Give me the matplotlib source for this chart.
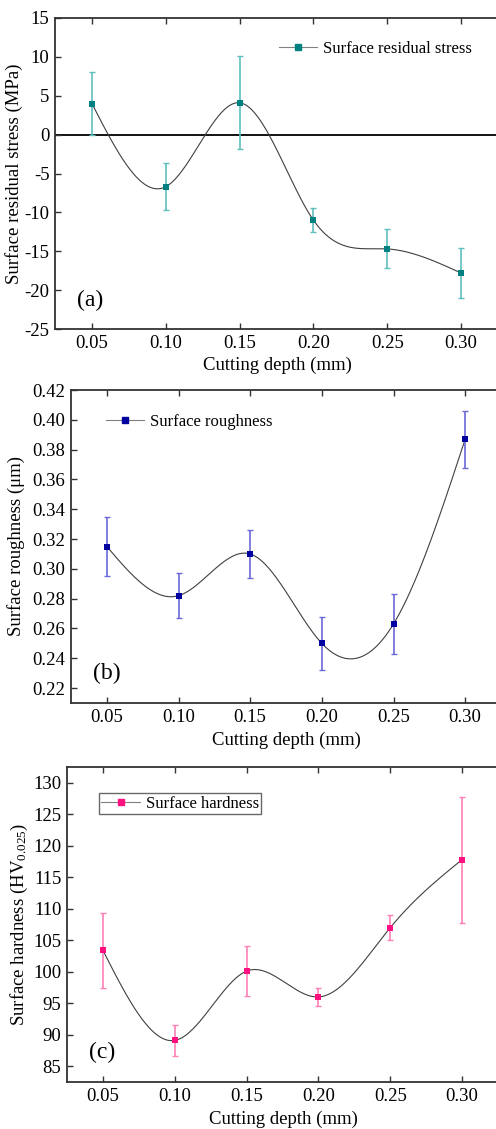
import numpy as np
import matplotlib
matplotlib.use("Agg")
import matplotlib.pyplot as plt
from matplotlib.lines import Line2D

plt.rcParams['font.family'] = ['Liberation Serif', 'DejaVu Serif']
plt.rcParams['mathtext.fontset'] = 'custom'
plt.rcParams['mathtext.rm'] = 'Liberation Serif'
plt.rcParams['mathtext.it'] = 'Liberation Serif:italic'

depth = [0.05, 0.10, 0.15, 0.20, 0.25, 0.30]
depth_ticks = ['0.05', '0.10', '0.15', '0.20', '0.25', '0.30']

stress = [4.0, -6.7, 4.1, -11.0, -14.7, -17.8]
stress_err = [4.0, 3.0, 6.0, 1.5, 2.5, 3.2]

rough = [0.315, 0.282, 0.310, 0.250, 0.263, 0.387]
rough_err = [0.020, 0.015, 0.016, 0.018, 0.020, 0.019]

hard = [103.4, 89.1, 100.1, 96.0, 107.0, 117.8]
hard_err = [6.0, 2.5, 4.0, 1.5, 2.0, 10.0]


def natural_spline(x, y, n=300):
    x = np.asarray(x, float); y = np.asarray(y, float)
    m = len(x)
    h = np.diff(x)
    A = np.zeros((m, m)); b = np.zeros(m)
    A[0, 0] = 1; A[-1, -1] = 1
    for i in range(1, m - 1):
        A[i, i - 1] = h[i - 1]
        A[i, i] = 2 * (h[i - 1] + h[i])
        A[i, i + 1] = h[i]
        b[i] = 3 * ((y[i + 1] - y[i]) / h[i] - (y[i] - y[i - 1]) / h[i - 1])
    c = np.linalg.solve(A, b)
    xs = np.linspace(x[0], x[-1], n)
    ys = np.empty_like(xs)
    for k, xv in enumerate(xs):
        i = min(np.searchsorted(x, xv, side='right') - 1, m - 2)
        bi = (y[i + 1] - y[i]) / h[i] - h[i] * (2 * c[i] + c[i + 1]) / 3
        di = (c[i + 1] - c[i]) / (3 * h[i])
        t = xv - x[i]
        ys[k] = y[i] + bi * t + c[i] * t ** 2 + di * t ** 3
    return xs, ys


fig = plt.figure(figsize=(4.96, 11.29), dpi=100)

panels = [
    dict(pos=[55/496, 1-329/1129, 443/496, 311/1129], y=stress, e=stress_err,
         mc='#008080', ec='#5fbfbf', ylim=(-25, 15), yticks=np.arange(-25, 16, 5),
         yfmt='{:.0f}', ylabel='Surface residual stress (MPa)', label='Surface residual stress',
         tag='(a)', leg=(0.506, 0.90), frame=False, zero=True,
         ylc=-0.072, xlc=-0.09),
    dict(pos=[71/496, 1-703/1129, 430/496, 313/1129], y=rough, e=rough_err,
         mc='#0000a0', ec='#6a6ad8', ylim=(0.21, 0.42), yticks=np.arange(0.22, 0.421, 0.02),
         yfmt='{:.2f}', ylabel='Surface roughness (μm)', label='Surface roughness',
         tag='(b)', leg=(0.081, 0.898), frame=False, zero=False,
         ylc=-0.107, xlc=-0.093),
    dict(pos=[67/496, 1-1082/1129, 431/496, 315/1129], y=hard, e=hard_err,
         mc='#ff1080', ec='#ff80b8', ylim=(82.5, 132.5), yticks=np.arange(85, 131, 5),
         yfmt='{:.0f}', ylabel=r'Surface hardness (HV$_{0.025}$)', label='Surface hardness',
         tag='(c)', leg=(0.074, 0.883), frame=True, zero=False,
         ylc=-0.086, xlc=-0.092),
]

for p in panels:
    ax = fig.add_axes(p['pos'])
    xs, ys = natural_spline(depth, p['y'])
    ax.plot(xs, ys, color='#404040', lw=0.8, zorder=2)
    ax.errorbar(depth, p['y'], yerr=p['e'], fmt='none', ecolor=p['ec'], elinewidth=1.2,
                capsize=2.5, capthick=1.0, zorder=3)
    ax.plot(depth, p['y'], 's', color=p['mc'], ms=5, mew=0, zorder=4)
    if p['zero']:
        ax.axhline(0, color='black', lw=1.3, zorder=1)
    ax.set_xlim(0.025, 0.325)
    ax.set_ylim(*p['ylim'])
    ax.set_xticks(depth)
    ax.set_xticklabels(depth_ticks)
    ax.set_yticks(p['yticks'])
    ax.set_yticklabels([p['yfmt'].format(v) for v in p['yticks']])
    ax.tick_params(direction='in', length=4, width=1, labelsize=13.5, top=True, right=False,
                   color='#333333', pad=4)
    for s in ax.spines.values():
        s.set_color('#333333')
        s.set_linewidth(1.3)
    ax.set_xlabel('Cutting depth (mm)', fontsize=13.5)
    ax.set_ylabel(p['ylabel'], fontsize=13.5)
    ax.yaxis.set_label_coords(p['ylc'], 0.5)
    ax.xaxis.set_label_coords(0.502, p['xlc'])
    ax.text(0.05, 0.093, p['tag'], transform=ax.transAxes, fontsize=17, va='center', ha='left')
    h = Line2D([], [], color='#808080', lw=0.8, marker='s', ms=5, mfc=p['mc'], mec=p['mc'])
    leg = ax.legend([h], [p['label']], loc='center left', bbox_to_anchor=p['leg'],
                    frameon=p['frame'], fontsize=12, handlelength=2.3, handletextpad=0.35,
                    borderaxespad=0, borderpad=0.15 if p['frame'] else 0, fancybox=False)
    if p['frame']:
        leg.get_frame().set_edgecolor('#444444')
        leg.get_frame().set_linewidth(1.0)

fig.savefig('out.png', dpi=100)
